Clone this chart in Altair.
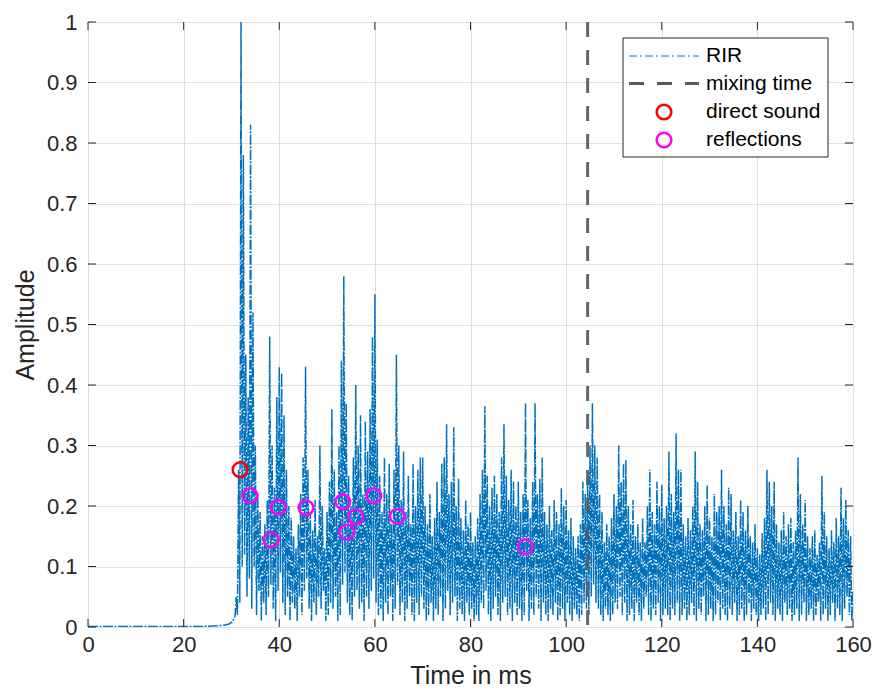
import altair as alt
import pandas as pd

# ---------------- data ----------------
# quiet part before the direct sound (time in ms, amplitude)
pre_t = [0.0, 5.0, 10.0, 15.0, 20.0, 24.0, 27.0, 28.5, 29.5, 30.25, 30.75]
pre_a = [0.001, 0.001, 0.001, 0.001, 0.001, 0.001, 0.002, 0.003, 0.005, 0.009, 0.018]

# RIR local maxima, one every 0.5 ms starting at 31.0 ms
peaks_a = [  # 31.0 - 60.5
    0.05, 0.26, 1.0, 0.78, 0.45, 0.38, 0.83, 0.52, 0.30, 0.22,
    0.19, 0.15, 0.17, 0.21, 0.48, 0.30, 0.23, 0.38, 0.43, 0.42,
    0.35, 0.26, 0.20, 0.18, 0.15, 0.13, 0.17, 0.22, 0.28, 0.43,
    0.26, 0.19, 0.16, 0.21, 0.15, 0.30, 0.20, 0.13, 0.19, 0.24,
    0.36, 0.26, 0.19, 0.30, 0.44, 0.58, 0.37, 0.25, 0.20, 0.28,
    0.40, 0.30, 0.35, 0.22, 0.34, 0.29, 0.36, 0.48, 0.55, 0.31,
]
peaks_b = [  # 61.0 - 110.5
    0.25, 0.19, 0.28, 0.22, 0.27, 0.17, 0.26, 0.45, 0.30, 0.21,
    0.29, 0.19, 0.25, 0.17, 0.27, 0.20, 0.26, 0.28, 0.28, 0.20,
    0.17, 0.22, 0.15, 0.18, 0.24, 0.19, 0.27, 0.28, 0.335, 0.22,
    0.24, 0.33, 0.20, 0.245, 0.18, 0.16, 0.21, 0.17, 0.19, 0.14,
    0.15, 0.18, 0.22, 0.26, 0.365, 0.25, 0.20, 0.23, 0.25, 0.22,
    0.19, 0.28, 0.335, 0.25, 0.21, 0.26, 0.24, 0.20, 0.24, 0.19,
    0.22, 0.37, 0.21, 0.18, 0.24, 0.37, 0.22, 0.245, 0.28, 0.19,
    0.17, 0.20, 0.16, 0.21, 0.19, 0.17, 0.23, 0.20, 0.21, 0.16,
    0.18, 0.15, 0.13, 0.15, 0.17, 0.24, 0.22, 0.25, 0.30, 0.37,
    0.30, 0.28, 0.22, 0.19, 0.14, 0.17, 0.15, 0.18, 0.22, 0.20,
]
peaks_c = [  # 111.0 - 159.5
    0.30, 0.24, 0.27, 0.276, 0.20, 0.17, 0.21, 0.15, 0.17, 0.14,
    0.18, 0.14, 0.20, 0.26, 0.19, 0.17, 0.24, 0.20, 0.235, 0.18,
    0.20, 0.29, 0.22, 0.19, 0.32, 0.26, 0.26, 0.17, 0.15, 0.18,
    0.16, 0.20, 0.29, 0.24, 0.17, 0.16, 0.20, 0.235, 0.18, 0.15,
    0.22, 0.19, 0.20, 0.26, 0.20, 0.17, 0.23, 0.22, 0.16, 0.19,
    0.15, 0.21, 0.19, 0.16, 0.20, 0.15, 0.14, 0.17, 0.13, 0.12,
    0.155, 0.18, 0.26, 0.24, 0.20, 0.24, 0.17, 0.14, 0.16, 0.19,
    0.15, 0.17, 0.18, 0.14, 0.16, 0.28, 0.22, 0.17, 0.21, 0.15,
    0.13, 0.15, 0.16, 0.12, 0.14, 0.25, 0.19, 0.15, 0.13, 0.16,
    0.14, 0.18, 0.15, 0.23, 0.18, 0.21, 0.16, 0.15,
]
# RIR local minima between the maxima above
troughs_a = [
    0.02, 0.04, 0.10, 0.12, 0.05, 0.08, 0.03, 0.10, 0.02, 0.06, 0.01, 0.04, 0.02, 0.05, 0.07, 0.03, 0.01, 0.06, 0.09, 0.04,
    0.02, 0.05, 0.01, 0.04, 0.03, 0.01, 0.05, 0.02, 0.06, 0.08, 0.03, 0.01, 0.04, 0.02, 0.05, 0.03, 0.06, 0.01, 0.02, 0.04,
    0.03, 0.05, 0.01, 0.02, 0.07, 0.09, 0.04, 0.02, 0.01, 0.05, 0.06, 0.03, 0.04, 0.01, 0.05, 0.03, 0.06, 0.08, 0.04, 0.02,
    0.03, 0.01, 0.04, 0.02, 0.05, 0.01, 0.03, 0.07, 0.02, 0.04, 0.01, 0.03, 0.05, 0.02, 0.01, 0.04, 0.02, 0.05, 0.03, 0.01,
    0.02, 0.04, 0.01, 0.03, 0.02, 0.05, 0.01, 0.03, 0.06, 0.02, 0.04, 0.05, 0.01, 0.03, 0.02, 0.01, 0.04, 0.02, 0.03, 0.01,
    0.02, 0.01, 0.04, 0.03, 0.06, 0.02, 0.01, 0.03, 0.05, 0.02, 0.01, 0.04, 0.05, 0.02, 0.03, 0.01, 0.04, 0.02, 0.03, 0.01,
    0.02, 0.06, 0.01, 0.03, 0.02, 0.05, 0.03, 0.01, 0.04, 0.02, 0.01, 0.03, 0.02, 0.04, 0.01, 0.02, 0.03, 0.01, 0.04, 0.02,
    0.01, 0.03, 0.02, 0.01, 0.02, 0.04, 0.03, 0.02, 0.05, 0.07, 0.04, 0.03, 0.02, 0.01, 0.03, 0.02, 0.01, 0.02, 0.04, 0.03,
    0.05, 0.02, 0.04, 0.01, 0.02, 0.03, 0.01, 0.04, 0.02, 0.01, 0.03, 0.05, 0.02, 0.01, 0.03, 0.02, 0.04, 0.01, 0.02, 0.03,
    0.02, 0.01, 0.03, 0.02, 0.04, 0.01, 0.02, 0.03, 0.01, 0.02, 0.04, 0.02, 0.01, 0.03, 0.02, 0.05, 0.01, 0.02, 0.03, 0.01,
    0.02, 0.04, 0.01, 0.03, 0.02, 0.01, 0.03, 0.02, 0.04, 0.01, 0.02, 0.03, 0.01, 0.02, 0.04, 0.01, 0.03, 0.02, 0.01, 0.02,
    0.03, 0.01, 0.02, 0.04, 0.02, 0.01, 0.03, 0.02, 0.01, 0.04, 0.02, 0.03, 0.01, 0.02, 0.03, 0.01, 0.02, 0.04, 0.01, 0.02,
    0.03, 0.01, 0.02, 0.04, 0.01, 0.02, 0.03, 0.01, 0.02, 0.04, 0.01, 0.03, 0.02, 0.01, 0.03, 0.05, 0.02, 0.01,
]
end_t, end_a = 160.0, 0.06
peak_start_ms = 31.0
sample_step_ms = 0.5

direct_t = [31.8]
direct_a = [0.26]
refl_t = [33.9, 38.3, 39.8, 45.6, 53.3, 54.1, 56.0, 59.8, 64.7, 91.5]
refl_a = [0.217, 0.144, 0.198, 0.197, 0.207, 0.157, 0.182, 0.217, 0.183, 0.133]
mixing_time = [104.5]

x_ticks = [0, 20, 40, 60, 80, 100, 120, 140, 160]
y_ticks = [0, 0.1, 0.2, 0.3, 0.4, 0.5, 0.6, 0.7, 0.8, 0.9, 1.0]
legend_labels = ["RIR", "mixing time", "direct sound", "reflections"]

# ---------------- build tables ----------------
peaks = peaks_a + peaks_b + peaks_c
rows = [{"t": t, "a": a} for t, a in zip(pre_t, pre_a)]
for k, p in enumerate(peaks):
    t0 = peak_start_ms + sample_step_ms * k
    rows.append({"t": t0, "a": p})
    if k < len(troughs_a):
        rows.append({"t": t0 + sample_step_ms / 2, "a": troughs_a[k]})
rows.append({"t": end_t, "a": end_a})
rir = pd.DataFrame(rows)

direct = pd.DataFrame({"t": direct_t, "a": direct_a})
refl = pd.DataFrame({"t": refl_t, "a": refl_a})
mix = pd.DataFrame({"t": mixing_time})
xt = pd.DataFrame({"t": x_ticks})
yt = pd.DataFrame({"a": y_ticks})

W, H = 765, 605
FONT = "Liberation Sans"
AX = "#262626"
BLUE = "#0072BD"
CIRCLE_SIZE = 215

xs = alt.Scale(domain=[0, 160], nice=False, zero=False)
ys = alt.Scale(domain=[0, 1], nice=False)

x_axis = alt.Axis(values=x_ticks, title="Time in ms", grid=True, format="d",
                  labelOverlap=False, labelFlush=False)
y_axis = alt.Axis(values=y_ticks, title="Amplitude", grid=True, format="~g",
                  labelOverlap=False, labelFlush=False)

line = alt.Chart(rir).mark_line(
    color=BLUE, strokeWidth=1.5, strokeDash=[10, 1.5, 2, 1.5], clip=True
).encode(
    x=alt.X("t:Q", scale=xs, axis=x_axis),
    y=alt.Y("a:Q", scale=ys, axis=y_axis),
)

mix_rule = alt.Chart(mix).mark_rule(
    color="#595959", strokeWidth=3, strokeDash=[15, 13], opacity=0.92
).encode(x=alt.X("t:Q", scale=xs), y=alt.value(0), y2=alt.value(H))

direct_pts = alt.Chart(direct).mark_point(
    shape="circle", size=CIRCLE_SIZE, filled=False, color="#FF0000", strokeWidth=2.5, opacity=1
).encode(x=alt.X("t:Q", scale=xs), y=alt.Y("a:Q", scale=ys))

refl_pts = alt.Chart(refl).mark_point(
    shape="circle", size=CIRCLE_SIZE, filled=False, color="#FF00FF", strokeWidth=2.5, opacity=1
).encode(x=alt.X("t:Q", scale=xs), y=alt.Y("a:Q", scale=ys))

# inside ticks on all four sides (MATLAB style)
tick_len = 8
bx = alt.Chart(xt).mark_rule(color=AX, strokeWidth=1).encode(
    x=alt.X("t:Q", scale=xs), y=alt.value(H), y2=alt.value(H - tick_len))
tx = alt.Chart(xt).mark_rule(color=AX, strokeWidth=1).encode(
    x=alt.X("t:Q", scale=xs), y=alt.value(0), y2=alt.value(tick_len))
ly = alt.Chart(yt).mark_rule(color=AX, strokeWidth=1).encode(
    y=alt.Y("a:Q", scale=ys), x=alt.value(0), x2=alt.value(tick_len))
ry = alt.Chart(yt).mark_rule(color=AX, strokeWidth=1).encode(
    y=alt.Y("a:Q", scale=ys), x=alt.value(W), x2=alt.value(W - tick_len))

# legend box
LX0, LX1, LY0, LY1 = 535, 740, 16, 135
one = pd.DataFrame({"k": [0]})
leg_box = alt.Chart(one).mark_rect(
    fill="white", stroke=AX, strokeWidth=1
).encode(x=alt.value(LX0), x2=alt.value(LX1), y=alt.value(LY0), y2=alt.value(LY1))
leg_rows = [34, 61.5, 90, 118]
leg_rir = alt.Chart(one).mark_rule(
    color=BLUE, strokeWidth=1, strokeDash=[8, 3, 2, 3]
).encode(x=alt.value(541), x2=alt.value(611), y=alt.value(leg_rows[0]))
leg_mix = alt.Chart(one).mark_rule(
    color="#595959", strokeWidth=3, strokeDash=[15, 13]
).encode(x=alt.value(541), x2=alt.value(611), y=alt.value(leg_rows[1]))
leg_direct = alt.Chart(one).mark_point(
    shape="circle", size=CIRCLE_SIZE, filled=False, color="#FF0000", strokeWidth=2.5, opacity=1
).encode(x=alt.value(576), y=alt.value(leg_rows[2]))
leg_refl = alt.Chart(one).mark_point(
    shape="circle", size=CIRCLE_SIZE, filled=False, color="#FF00FF", strokeWidth=2.5, opacity=1
).encode(x=alt.value(576), y=alt.value(leg_rows[3]))

text_layers = [
    alt.Chart(pd.DataFrame({"label": [lab]})).mark_text(
        align="left", baseline="middle", font=FONT, fontSize=21, color="black"
    ).encode(x=alt.value(618), y=alt.value(yy), text="label:N")
    for lab, yy in zip(legend_labels, leg_rows)
]

chart = alt.layer(
    line, mix_rule, direct_pts, refl_pts, bx, tx, ly, ry,
    leg_box, leg_rir, leg_mix, leg_direct, leg_refl, *text_layers,
).properties(
    width=W, height=H,
    autosize=alt.AutoSizeParams(type="none"),
    padding={"left": 88, "top": 22, "right": 24, "bottom": 71},
    background="white",
).configure_view(
    stroke=AX, strokeWidth=1
).configure_axis(
    domain=False, tickSize=0, gridColor="#dfdfdf", gridWidth=1,
    labelFont=FONT, labelFontSize=22, labelColor=AX,
    titleFont=FONT, titleFontSize=25, titleFontWeight="normal", titleColor=AX,
).configure_axisX(labelPadding=7, titlePadding=8).configure_axisY(labelPadding=11, titlePadding=8)

chart.save("out.html", embed_options={"renderer": "svg", "actions": False})
